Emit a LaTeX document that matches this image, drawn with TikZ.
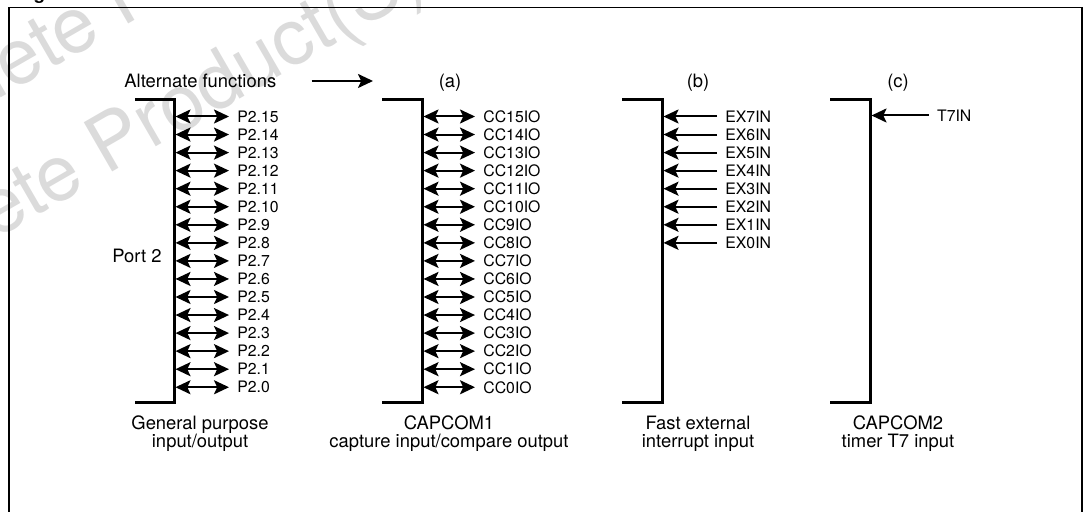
\documentclass[tikz,border=0pt]{standalone}
\usepackage{fontspec}
\setmainfont{TeX Gyre Heros}
\usetikzlibrary{arrows.meta,positioning}

\tikzset{
  pinlabel/.style={font=\fontsize{7.9}{9}\selectfont, anchor=west, inner sep=0pt},
  maintext/.style={font=\fontsize{9.2}{9}\selectfont, inner sep=0pt, align=center},
  watermark/.style={font=\fontsize{39}{44}\selectfont, text=black!14, rotate=30, anchor=base west, inner sep=0pt},
  portbracket/.style={line width=1.5pt},
  headtip/.tip={Stealth[length=7.5pt,width=7pt,inset=1.6pt]},
  biarrow/.style={line width=1pt, headtip-headtip, shorten >=4pt},
  inarrow/.style={line width=1pt, -headtip, shorten <=4pt},
}

\begin{document}
\begin{tikzpicture}[x=0.5pt, y=-0.5pt]

\useasboundingbox (0,0) rectangle (1087,512);
\clip (0,0) rectangle (1087,512);

% ================= WATERMARK =================
\node[watermark] (wm1) at (-165,194) {Obsolete Product(S)};
\node[watermark] (wm2) at (-181,342) {Obsolete Product(S)};

% ================= FRAME =================
\node[font=\bfseries\fontsize{9.2}{11}\selectfont, anchor=base west, inner sep=0pt] (figtitle) at (17,0) {Figure};
\draw[line width=0.85pt] (9,530) -- (9,7.5) -- (1082,7.5) -- (1082,530);

% ================= HEADER =================
\node[maintext, anchor=west] (alt) at (124,81) {Alternate functions};
\coordinate (altend) at (373,81);
\draw[inarrow, shorten <=17.5pt] (alt.east) -- (altend);

\node[maintext] (cola) at (450,83) {(a)};
\node[maintext] (colb) at (698,83) {(b)};
\node[maintext] (colc) at (898,83) {(c)};

% ================= PORT 2 =================
\draw[portbracket] (135,100) -- (174,100) -- (174,403) -- (135,403);
\node[maintext, anchor=east] (port) at (162,256) {Port 2};
\foreach \n in {0,...,15} {
  \pgfmathsetmacro{\yy}{116.5+18.05*(15-\n)}
  \coordinate (pb\n) at (175.5,\yy);
  \node[pinlabel] (p\n) at (237,\yy) {P2.\n};
  \draw[biarrow] (pb\n) -- (p\n);
}
\node[maintext] (gpio) at (200,434) {General purpose\\input/output};

% ================= CAPCOM1 (a) =================
\draw[portbracket] (382,100) -- (422,100) -- (422,403) -- (382,403);
\foreach \n in {0,...,15} {
  \pgfmathsetmacro{\yy}{116.5+18.05*(15-\n)}
  \coordinate (cb\n) at (423.5,\yy);
  \node[pinlabel] (cc\n) at (483,\yy) {CC\n IO};
  \draw[biarrow] (cb\n) -- (cc\n);
}
\node[maintext] (capone) at (449,434) {CAPCOM1\\capture input/compare output};

% ================= FAST EXTERNAL INTERRUPT (b) =================
\draw[portbracket] (622,100) -- (662,100) -- (662,403) -- (622,403);
\foreach \n in {0,...,7} {
  \pgfmathsetmacro{\yy}{116.5+18.05*(7-\n)}
  \coordinate (eb\n) at (663.5,\yy);
  \node[pinlabel] (ex\n) at (725,\yy) {EX\n IN};
  \draw[inarrow] (ex\n) -- (eb\n);
}
\node[maintext] (fastint) at (698,434) {Fast external\\interrupt input};

% ================= CAPCOM2 (c) =================
\draw[portbracket] (830,100) -- (870,100) -- (870,403) -- (830,403);
\coordinate (tb) at (871.5,115.5);
\node[pinlabel] (tin) at (936.7,115.5) {T7IN};
\draw[inarrow] (tin) -- (tb);
\node[maintext] (captwo) at (898,434) {CAPCOM2\\timer T7 input};

\end{tikzpicture}
\end{document}
